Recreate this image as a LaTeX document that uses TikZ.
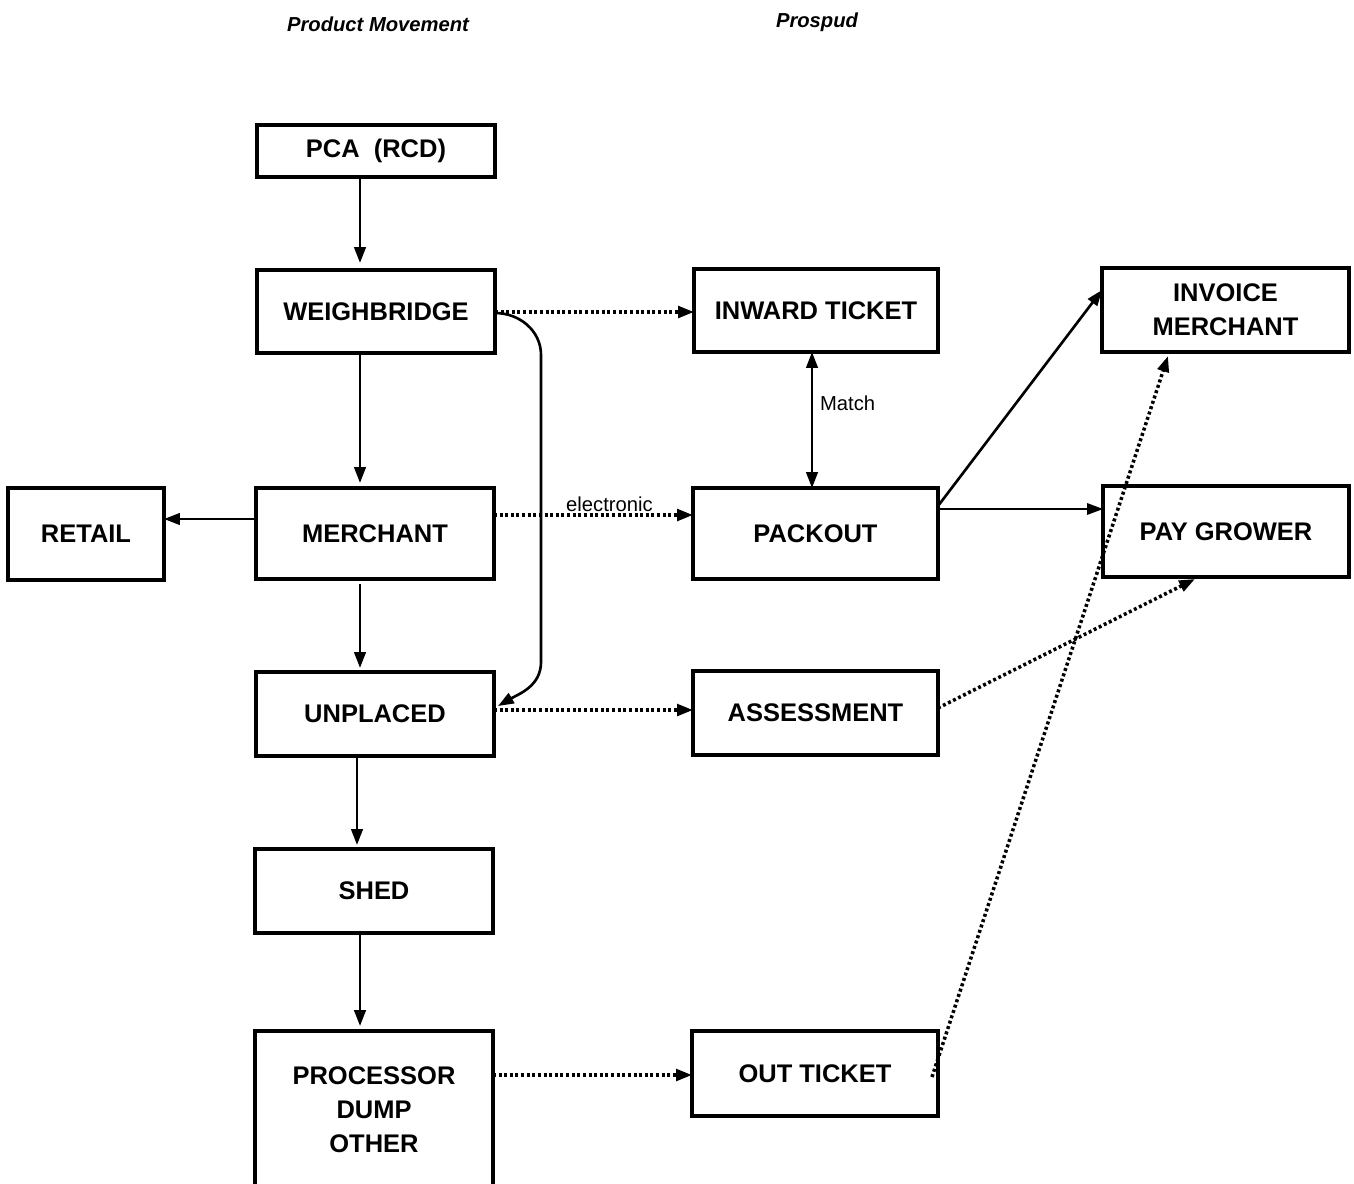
\documentclass[tikz,border=0pt]{standalone}
\usepackage{fontspec}
\setmainfont{Liberation Sans}
\usetikzlibrary{arrows.meta,calc}
\begin{document}
\begin{tikzpicture}[x=0.02cm,y=-0.02cm,
  bx/.style={draw=black,line width=2.1pt,rectangle,inner sep=0pt,outer sep=0pt,align=center,
    font=\bfseries\fontsize{14.5}{19.5}\selectfont},
  arr/.style={line width=1.5pt,-{Triangle[length=9pt,width=6.5pt]}},
  thinarr/.style={line width=0.9pt,-{Triangle[length=9pt,width=6.5pt]}},
  dotarr/.style={line width=2pt,dash pattern=on 1.7pt off 1.5pt,-{Triangle[length=9pt,width=6.5pt]}},
  ttl/.style={font=\bfseries\itshape\fontsize{11.5}{14}\selectfont},
  lbl/.style={font=\fontsize{11.5}{14}\selectfont,inner sep=1pt}]
\path[use as bounding box] (0,0) rectangle (1354,1183);

\node[ttl] (t1) at (378,24) {Product Movement};
\node[ttl] (t2) at (817,22) {Prospud};

\node[bx,minimum width=4.76cm,minimum height=1.04cm] (pca) at (376,151) {PCA\ \ (RCD)};
\node[bx,minimum width=4.76cm,minimum height=1.66cm] (wb) at (376,311.5) {WEIGHBRIDGE};
\node[bx,minimum width=4.76cm,minimum height=1.82cm] (mer) at (375,533.5) {MERCHANT};
\node[bx,minimum width=3.12cm,minimum height=1.84cm] (ret) at (86,534) {RETAIL};
\node[bx,minimum width=4.76cm,minimum height=1.68cm] (up) at (375,714) {UNPLACED};
\node[bx,minimum width=4.76cm,minimum height=1.68cm] (shed) at (374,891) {SHED};
\node[bx,minimum width=4.76cm,minimum height=3.14cm] (proc) at (374,1109.5) {PROCESSOR\\DUMP\\OTHER};

\node[bx,minimum width=4.88cm,minimum height=1.66cm] (it) at (816,310.5) {INWARD TICKET};
\node[bx,minimum width=4.9cm,minimum height=1.82cm] (pk) at (815.5,533.5) {PACKOUT};
\node[bx,minimum width=4.9cm,minimum height=1.68cm] (as) at (815.5,713) {ASSESSMENT};
\node[bx,minimum width=4.92cm,minimum height=1.7cm] (ot) at (815,1073.5) {OUT TICKET};

\node[bx,minimum width=4.94cm,minimum height=1.68cm] (im) at (1225.5,310) {INVOICE\\MERCHANT};
\node[bx,minimum width=4.92cm,minimum height=1.82cm] (pg) at (1226,531.5) {PAY GROWER};

% vertical flow
\draw[arr] (pca.south -| 360,0) -- ($(wb.north -| 360,0)+(0,-7)$);
\draw[arr] (wb.south -| 360,0) -- ($(mer.north -| 360,0)+(0,-5)$);
\draw[arr] ($(mer.south -| 360,0)+(0,5)$) -- ($(up.north -| 360,0)+(0,-4)$);
\draw[arr] (up.south -| 357,0) -- ($(shed.north -| 357,0)+(0,-4)$);
\draw[arr] (shed.south -| 360,0) -- ($(proc.north -| 360,0)+(0,-5)$);
\draw[arr] (mer.west |- 0,519) -- (ret.east |- 0,519);

% curved weighbridge -> unplaced
\draw[arr] (wb.east |- 0,313) to[out=0,in=90] (541,355) -- (541,662) to[out=-90,in=30] ($(up.east |- 0,706)+(4,0)$);

% dotted horizontals
\draw[dotarr] (wb.east |- 0,312) -- (it.west |- 0,312);
\draw[dotarr] (mer.east |- 0,515) -- (pk.west |- 0,515)
  node[lbl,pos=0.58,above] {electronic};
\draw[dotarr] (up.east |- 0,710) -- (as.west |- 0,710);
\draw[dotarr] (proc.east |- 0,1075) -- (ot.west |- 0,1075);

% match
\draw[line width=1.5pt,{Triangle[length=9pt,width=6.5pt]}-{Triangle[length=9pt,width=6.5pt]}]
  (it.south -| 812,0) -- (pk.north -| 812,0);
\node[lbl,anchor=west] (match) at (818,403) {Match};

% packout outputs
\draw[arr] (pk.east |- 0,506) -- (im.west |- 0,290);
\draw[thinarr] (pk.east |- 0,509) -- (pg.west |- 0,509);

% dotted diagonals
\draw[dotarr] (as.east |- 0,708) -- ($(pg.south -| 1195,0)+(0,2)$);
\draw[dotarr] ($(ot.east |- 0,1077)+(-6,0)$) -- ($(im.south -| 1168,0)+(0,4)$);
\end{tikzpicture}
\end{document}
